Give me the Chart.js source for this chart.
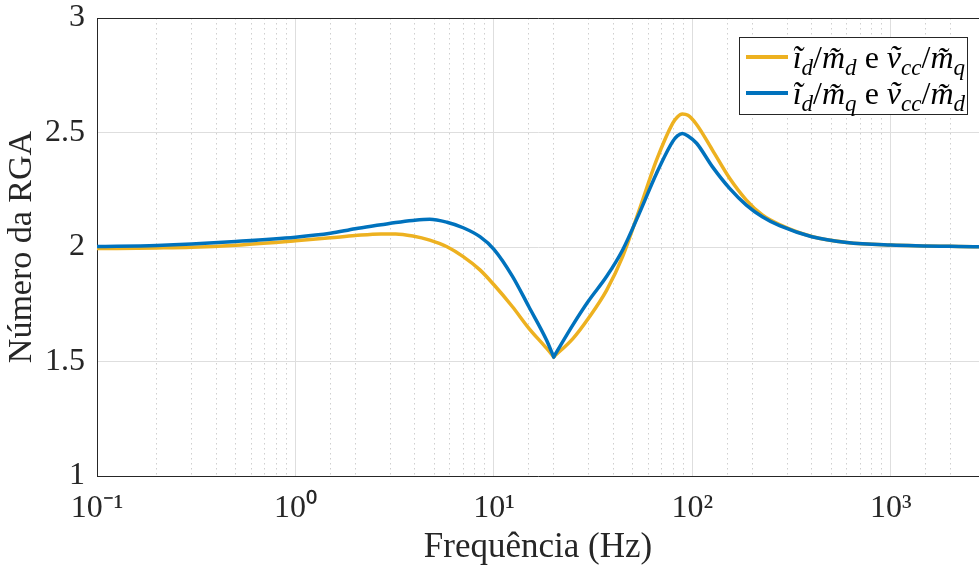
<!DOCTYPE html>
<html>
<head>
<meta charset="utf-8">
<script src="https://cdn.jsdelivr.net/npm/chart.js@4"></script>
<style>
  html, body { margin: 0; padding: 0; background: #fff; }
  #wrap { position: relative; width: 979px; height: 565px; overflow: hidden; }
  #legend { position: absolute; background: #fff; border: 1px solid #262626;
    font-family: "Liberation Serif", serif; font-size: 32px; color: #000;
    padding: 1px 2px 3px 6px; }
  .item { display: flex; align-items: center; height: 36px; white-space: nowrap;
    font-family: "Liberation Serif", serif; }
  .item i { font-family: "Liberation Serif", serif; font-style: italic; }
  .swatch { width: 42px; height: 4px; margin-right: 5px; flex: none; }
  .item sub { font-size: 0.72em; vertical-align: -0.32em; line-height: 0; }
</style>
</head>
<body>
<div id="wrap">
  <canvas id="chart" width="979" height="565"></canvas>
  <div id="legend"></div>
</div>
<script>
// frequências (Hz) e número da RGA
const freq = [0.1, 0.2, 0.3, 0.5, 1, 1.5, 2, 2.7, 3.2, 3.9, 4.75, 5.8, 7, 8.5, 10, 12.4, 15, 18.4, 20,
  25, 30, 37, 44.5, 54, 66, 79.5, 84, 89, 95, 105, 126, 154, 187, 225, 275, 400, 600, 1000, 2780];

const rgaDD = [1.993, 1.996, 1.999, 2.008, 2.027, 2.040, 2.050, 2.057, 2.057, 2.048, 2.030, 2.001, 1.958,
  1.900, 1.835, 1.739, 1.645, 1.558, 1.520,
  1.600, 1.690, 1.812, 1.958, 2.162, 2.380, 2.540, 2.568, 2.581, 2.575, 2.535, 2.424, 2.300, 2.205,
  2.140, 2.098, 2.046, 2.020, 2.009, 2.001];

const rgaDQ = [2.002, 2.007, 2.013, 2.024, 2.043, 2.060, 2.080, 2.097, 2.107, 2.116, 2.121, 2.108, 2.084,
  2.045, 1.990, 1.872, 1.739, 1.594, 1.520,
  1.660, 1.765, 1.872, 1.987, 2.147, 2.322, 2.460, 2.485, 2.496, 2.485, 2.453, 2.351, 2.256, 2.183,
  2.132, 2.093, 2.045, 2.020, 2.009, 2.001];

const cuspFreq = 20; // bico da curva: cada lado é suavizado separadamente

const seriesNames = ["id/md e vcc/mq", "id/mq e vcc/md"];
const legendHtml = [
  "<i>ĩ</i><sub><i>d</i></sub>/<i>m̃</i><sub><i>d</i></sub>&nbsp;e&nbsp;<i>ṽ</i><sub><i>cc</i></sub>/<i>m̃</i><sub><i>q</i></sub>",
  "<i>ĩ</i><sub><i>d</i></sub>/<i>m̃</i><sub><i>q</i></sub>&nbsp;e&nbsp;<i>ṽ</i><sub><i>cc</i></sub>/<i>m̃</i><sub><i>d</i></sub>"
];
const colors = ["#EDB120", "#0072BD"];

const yTicks = [1, 1.5, 2, 2.5, 3];
const sup = {"-": "⁻", "0": "⁰", "1": "¹", "2": "²", "3": "³"};

const serif = "'Liberation Serif', serif";

function isDecade(v) {
  const l = Math.log10(v);
  return Math.abs(l - Math.round(l)) < 1e-6;
}

function pts(vals, side) {
  return freq.map((f, i) => ({x: f, y: vals[i]}))
    .filter(p => side === 0 ? p.x <= cuspFreq : p.x >= cuspFreq);
}

function noPad(s) {
  s.paddingTop = 0; s.paddingBottom = 0; s.paddingLeft = 0; s.paddingRight = 0;
}

const datasets = [];
[rgaDD, rgaDQ].forEach((vals, k) => {
  [0, 1].forEach(side => {
    datasets.push({
      label: seriesNames[k],
      data: pts(vals, side),
      borderColor: colors[k],
      order: 2 - k
    });
  });
});

const chart = new Chart(document.getElementById("chart"), {
  type: "line",
  data: {datasets},
  options: {
    responsive: false,
    animation: false,
    layout: {padding: 0},
    elements: {
      line: {borderWidth: 3.5, cubicInterpolationMode: "monotone", fill: false,
        borderCapStyle: "round", borderJoinStyle: "round"},
      point: {radius: 0}
    },
    plugins: {legend: {display: false}, tooltip: {enabled: false}},
    scales: {
      x: {
        type: "logarithmic",
        min: 0.1,
        max: 2780,
        afterFit: s => { s.height = 89; noPad(s); },
        ticks: {
          autoSkip: false,
          maxRotation: 0,
          padding: 13,
          color: "#262626",
          font: {family: serif, size: 32},
          callback: v => {
            if (!isDecade(v)) return "";
            const e = String(Math.round(Math.log10(v)));
            return "10" + e.split("").map(c => sup[c]).join("");
          }
        },
        grid: {
          drawTicks: false,
          color: c => (c.tick && isDecade(c.tick.value)) ? "#dedede" : "#cfcfcf",
          lineWidth: 1
        },
        border: {
          color: "#262626",
          dash: c => (c.tick && !isDecade(c.tick.value)) ? [1.5, 3.5] : []
        },
        title: {
          display: true,
          text: "Frequência (Hz)",
          color: "#262626",
          padding: 0,
          font: {family: serif, size: 35, lineHeight: 1.0}
        }
      },
      x2: {
        type: "logarithmic",
        position: "top",
        min: 0.1,
        max: 2780,
        afterFit: s => { s.height = 18; noPad(s); },
        ticks: {display: false},
        grid: {display: false, drawTicks: false},
        border: {display: true, color: "#262626"}
      },
      y: {
        min: 1,
        max: 3,
        afterFit: s => { s.width = 97; noPad(s); },
        afterBuildTicks: s => { s.ticks = yTicks.map(v => ({value: v})); },
        ticks: {
          padding: 12,
          color: "#262626",
          font: {family: serif, size: 32},
          callback: v => String(v)
        },
        grid: {drawTicks: false, color: "#dedede", lineWidth: 1},
        border: {color: "#262626"},
        title: {
          display: true,
          text: "Número da RGA",
          color: "#262626",
          padding: {top: 5, bottom: 0},
          font: {family: serif, size: 34, lineHeight: 1.0}
        }
      }
    }
  }
});

// legenda em HTML (para os subscritos)
const leg = document.getElementById("legend");
legendHtml.forEach((h, i) => {
  const row = document.createElement("div");
  row.className = "item";
  row.innerHTML = `<span class="swatch" style="background:${colors[i]}"></span><span>${h}</span>`;
  leg.appendChild(row);
});
const area = chart.chartArea;
leg.style.right = (979 - area.right + 11) + "px";
leg.style.top = (area.top + 19) + "px";
</script>
</body>
</html>
